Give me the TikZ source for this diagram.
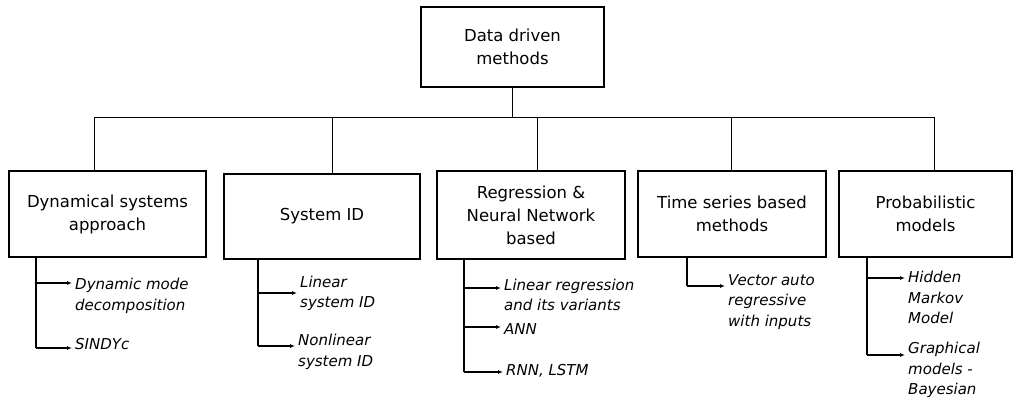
\documentclass[tikz,border=0pt]{standalone}
\usepackage{fontspec}
\setmainfont{DejaVu Sans}
\usetikzlibrary{arrows.meta,positioning,calc}
\tikzset{
  box/.style={draw=black, line width=1.6pt, align=center, font=\fontsize{16.5}{23}\selectfont},
  item/.style={align=left, inner sep=3pt, font=\fontsize{15}{20.5}\selectfont\itshape},
  tree/.style={draw=black, line width=1pt},
  stem/.style={draw=black, line width=1.8pt},
  leaf/.style={-{Latex[length=5pt,width=4pt]}, line width=1.2pt}
}

\begin{document}
\begin{tikzpicture}[x=1pt,y=-1pt]
  \useasboundingbox (0,0) rectangle (1015,400);
  % root and the five families
  \node[box, minimum width=183, minimum height=80] (root) at (512.5,47) {Data driven\\methods};
  \node[box, minimum width=197, minimum height=86] (dyn) at (107.5,214) {Dynamical systems\\approach};
  \node[box, minimum width=196, minimum height=85] (sysid) at (322,216.5) {System ID};
  \node[box, minimum width=188, minimum height=88] (reg) at (531,215) {Regression \&\\Neural Network\\based};
  \node[box, minimum width=188, minimum height=86] (ts) at (732,214) {Time series based\\methods};
  \node[box, minimum width=173, minimum height=86] (prob) at (925.5,214) {Probabilistic\\models};

  % bus between root and families
  \coordinate (j1) at (94,117);
  \coordinate (j2) at (332,117);
  \coordinate (j3) at (537,117);
  \coordinate (j4) at (731,117);
  \coordinate (j5) at (934,117);
  \draw[tree] (root.south) -- (root.south |- j1);
  \draw[tree] (j1) -- (j5);
  \draw[tree] (j1) -- (dyn.north -| j1);
  \draw[tree] (j2) -- (sysid.north -| j2);
  \draw[tree] (j3) -- (reg.north -| j3);
  \draw[tree] (j4) -- (ts.north -| j4);
  \draw[tree] (j5) -- (prob.north -| j5);

  % dynamical systems
  \coordinate (t11) at (36,283);
  \coordinate (t12) at (36,348);
  \node[item, anchor=west] (dmd) at (72,296) {Dynamic mode\\decomposition};
  \node[item, anchor=west] (sindy) at (72,344) {SINDYc};
  \draw[stem] (dyn.south -| t11) -- (t12);
  \draw[leaf] (t11) -- (dmd.west |- t11);
  \draw[leaf] (t12) -- (sindy.west |- t12);

  % system identification
  \coordinate (t21) at (258,293);
  \coordinate (t22) at (258,346);
  \node[item, anchor=west] (linid) at (297,293.5) {Linear\\system ID};
  \node[item, anchor=west] (nlid) at (295,352) {Nonlinear\\system ID};
  \draw[stem] (sysid.south -| t21) -- (t22);
  \draw[leaf] (t21) -- (linid.west |- t21);
  \draw[leaf] (t22) -- (nlid.west |- t22);

  % regression and networks
  \coordinate (t31) at (464,288);
  \coordinate (t32) at (464,327);
  \coordinate (t33) at (464,372);
  \node[item, anchor=west] (linreg) at (501,295) {Linear regression\\and its variants};
  \node[item, anchor=west] (ann) at (501,329) {ANN};
  \node[item, anchor=west] (rnn) at (503,371) {RNN, LSTM};
  \draw[stem] (reg.south -| t31) -- (t33);
  \draw[leaf] (t31) -- (linreg.west |- t31);
  \draw[leaf] (t32) -- (ann.west |- t32);
  \draw[leaf] (t33) -- (rnn.west |- t33);

  % time series
  \coordinate (t41) at (687,286);
  \node[item, anchor=west] (var) at (725,302) {Vector auto\\regressive\\with inputs};
  \draw[stem] (ts.south -| t41) -- (t41);
  \draw[leaf] (t41) -- (var.west |- t41);

  % probabilistic models
  \coordinate (t51) at (867,278);
  \coordinate (t52) at (867,355);
  \node[item, anchor=west] (hmm) at (905,297.5) {Hidden\\Markov\\Model};
  \node[item, anchor=west] (graph) at (905,370) {Graphical\\models -\\Bayesian};
  \draw[stem] (prob.south -| t51) -- (t52);
  \draw[leaf] (t51) -- (hmm.west |- t51);
  \draw[leaf] (t52) -- (graph.west |- t52);
\end{tikzpicture}
\end{document}
